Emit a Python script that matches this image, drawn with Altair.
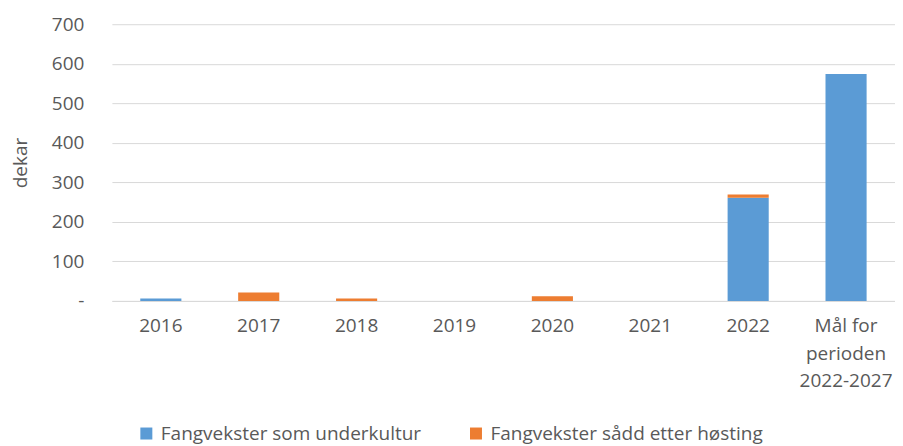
import altair as alt
import pandas as pd

categories = ["2016", "2017", "2018", "2019", "2020", "2021", "2022", "Mål for|perioden|2022-2027"]
series_names = ["Fangvekster som underkultur", "Fangvekster sådd etter høsting"]
underkultur = [6, 0, 0, 0, 0, 0, 261, 574]
etter_hosting = [0, 21, 6, 0, 12, 0, 8, 0]
y_ticks = [0, 100, 200, 300, 400, 500, 600, 700]
colors = ["#5B9BD5", "#ED7D31"]

rows = []
for i, c in enumerate(categories):
    rows.append({"kategori": c, "serie": series_names[0], "verdi": underkultur[i], "rekkefolge": 0})
    rows.append({"kategori": c, "serie": series_names[1], "verdi": etter_hosting[i], "rekkefolge": 1})
df = pd.DataFrame(rows)

FONT = "Open Sans"
GREY = "#595959"
GRID = "#d9d9d9"

chart = alt.Chart(df).mark_bar().encode(
    x=alt.X(
        "kategori:N",
        sort=categories,
        title=None,
        scale=alt.Scale(paddingInner=0.58, paddingOuter=0.29),
        axis=alt.Axis(
            labelAngle=0,
            labelExpr="split(datum.label, '|')",
            ticks=False,
            domainColor=GRID,
            labelPadding=16,
            labelLineHeight=27.5,
            labelFontSize=19,
            labelColor=GREY,
            labelFont=FONT,
            grid=False,
        ),
    ),
    y=alt.Y(
        "verdi:Q",
        stack="zero",
        title="dekar",
        scale=alt.Scale(domain=[0, 700], nice=False),
        axis=alt.Axis(
            values=y_ticks,
            labelExpr="datum.value == 0 ? '-\u00a0\u00a0\u00a0' : datum.label",
            ticks=False,
            domain=False,
            gridColor=GRID,
            labelPadding=28,
            labelFontSize=19,
            labelColor=GREY,
            labelFont=FONT,
            titleFont=FONT,
            titleFontSize=19,
            titleFontWeight="normal",
            titleColor=GREY,
            titlePadding=21,
        ),
    ),
    color=alt.Color(
        "serie:N",
        sort=series_names,
        scale=alt.Scale(domain=series_names, range=colors),
        legend=alt.Legend(
            title=None,
            orient="none",
            legendX=25,
            legendY=400,
            direction="horizontal",
            symbolType="square",
            symbolSize=144,
            symbolStrokeWidth=0,
            labelFontSize=19,
            labelColor=GREY,
            labelFont=FONT,
            labelLimit=500,
            labelOffset=5,
            columnPadding=45,
        ),
    ),
    order=alt.Order("rekkefolge:Q", sort="ascending"),
).properties(
    width=784,
    height=277,
    padding={"top": 7, "left": 3, "right": 0, "bottom": 4},
).configure_view(stroke=None)

chart.save("out.html", embed_options={"renderer": "svg", "actions": False})
